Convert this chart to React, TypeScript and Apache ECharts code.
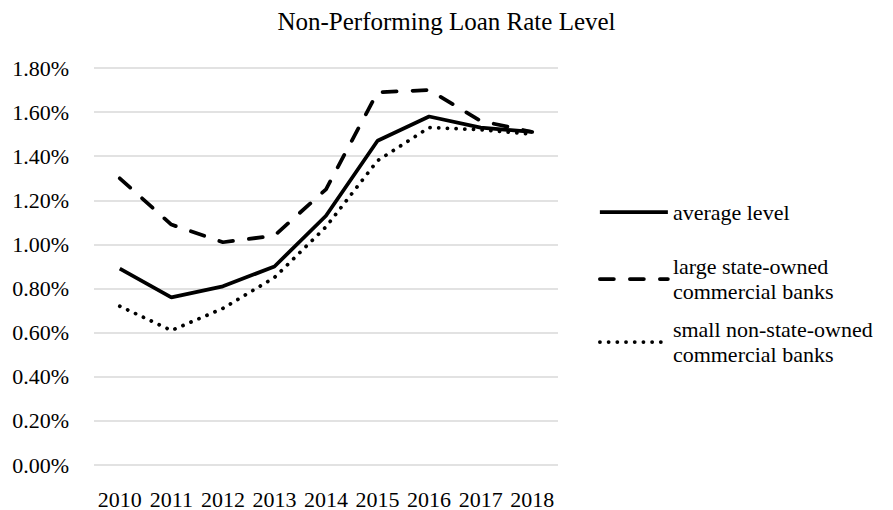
import React, { useEffect, useRef } from "react";
import * as echarts from "echarts";

const years = ["2010", "2011", "2012", "2013", "2014", "2015", "2016", "2017", "2018"];
const averageLevel = [0.89, 0.76, 0.81, 0.9, 1.13, 1.47, 1.58, 1.53, 1.51];
const largeStateOwned = [1.3, 1.09, 1.01, 1.04, 1.25, 1.69, 1.7, 1.56, 1.51];
const smallNonStateOwned = [0.72, 0.61, 0.71, 0.85, 1.08, 1.38, 1.53, 1.52, 1.5];
const seriesNames = [
  "average level",
  "large state-owned\ncommercial banks",
  "small non-state-owned\ncommercial banks",
];

const FONT = "'Liberation Serif', 'Times New Roman', serif";
const LINE_W = 3.75;

export default function App() {
  const ref = useRef<HTMLDivElement>(null);
  useEffect(() => {
    if (!ref.current) return;
    const chart = echarts.init(ref.current, null, { renderer: "svg" });
    const baseText = { fontFamily: FONT, fontSize: 22, color: "#000", lineHeight: 25 };
    const legendBase = {
      orient: "vertical",
      left: 598,
      padding: 0,
      itemWidth: 68,
      itemHeight: 2,
      itemStyle: { opacity: 0 },
      textStyle: baseText,
    };
    chart.setOption({
      animation: false,
      backgroundColor: "#fff",
      textStyle: { fontFamily: FONT },
      title: {
        text: "Non-Performing Loan Rate Level",
        left: "center",
        top: 4,
        textStyle: { fontFamily: FONT, fontSize: 25, fontWeight: "normal", color: "#000" },
      },
      legend: [
        {
          ...legendBase,
          top: 212 - 12.5,
          data: [seriesNames[0]],
          lineStyle: { width: LINE_W, color: "#000", type: "solid" },
        },
        {
          ...legendBase,
          top: 279 - 37.5,
          data: [seriesNames[1]],
          lineStyle: { width: LINE_W, color: "#000", type: [14, 16], cap: "round" },
          textStyle: { ...baseText, padding: [25, 0, 0, 0] },
        },
        {
          ...legendBase,
          top: 342 - 37.5,
          data: [seriesNames[2]],
          lineStyle: { width: LINE_W, color: "#000", type: [0.1, 8.6], cap: "round" },
          textStyle: { ...baseText, padding: [25, 0, 0, 0] },
        },
      ],
      grid: { left: 94, right: 335, top: 68, bottom: 45 },
      xAxis: {
        type: "category",
        data: years,
        boundaryGap: true,
        axisLine: { show: false },
        axisTick: { show: false },
        axisLabel: { fontFamily: FONT, fontSize: 22, color: "#000", margin: 23, interval: 0 },
      },
      yAxis: {
        type: "value",
        min: 0,
        max: 1.8,
        interval: 0.2,
        axisLine: { show: false },
        axisTick: { show: false },
        splitLine: { lineStyle: { color: "#d9d9d9", width: 1.5 } },
        axisLabel: {
          fontFamily: FONT,
          fontSize: 22,
          color: "#000",
          margin: 25,
          formatter: (v: number) => v.toFixed(2) + "%",
        },
      },
      series: [
        {
          name: seriesNames[0],
          type: "line",
          data: averageLevel,
          symbol: "none",
          lineStyle: { color: "#000", width: LINE_W, type: "solid" },
          itemStyle: { color: "#000" },
        },
        {
          name: seriesNames[1],
          type: "line",
          data: largeStateOwned,
          symbol: "none",
          lineStyle: { color: "#000", width: LINE_W, type: [14, 16], cap: "round" },
          itemStyle: { color: "#000" },
        },
        {
          name: seriesNames[2],
          type: "line",
          data: smallNonStateOwned,
          symbol: "none",
          lineStyle: { color: "#000", width: LINE_W, type: [0.1, 8.6], cap: "round" },
          itemStyle: { color: "#000" },
        },
      ],
    });
    return () => chart.dispose();
  }, []);
  return <div ref={ref} style={{ width: 893, height: 510, position: "absolute", left: 0, top: 0 }} />;
}
